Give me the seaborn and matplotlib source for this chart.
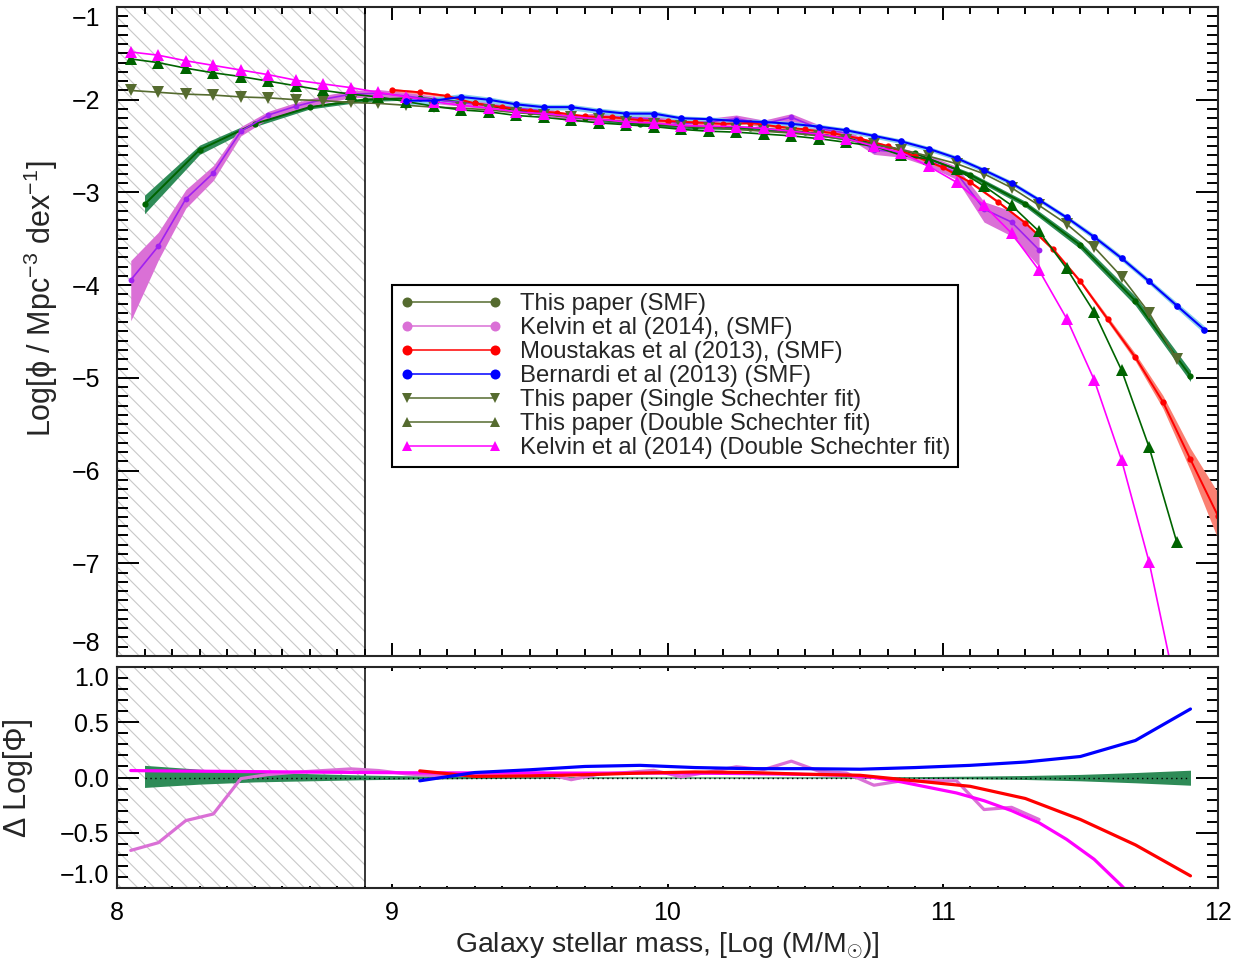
import matplotlib
matplotlib.use("Agg")
import matplotlib.pyplot as plt
import seaborn as sns
from matplotlib.lines import Line2D
from matplotlib.ticker import MultipleLocator, FixedLocator, FuncFormatter

# ---------------- data ----------------
# This paper: SMF (0.2 dex bins)
mass_smf = [8.1, 8.3, 8.5, 8.7, 8.9, 9.1, 9.3, 9.5, 9.7, 9.9,
            10.1, 10.3, 10.5, 10.7, 10.9, 11.1, 11.3, 11.5, 11.7, 11.9]
phi_smf = [-3.13, -2.54, -2.26, -2.08, -2.00, -1.98, -2.04, -2.135, -2.20, -2.26,
           -2.295, -2.305, -2.35, -2.44, -2.58, -2.81, -3.125, -3.57, -4.17, -4.98]
err_smf = [0.10, 0.05, 0.03, 0.02, 0.02, 0.02, 0.02, 0.02, 0.02, 0.02,
           0.02, 0.02, 0.02, 0.02, 0.02, 0.025, 0.03, 0.04, 0.05, 0.06]

# Kelvin et al (2014) SMF
mass_kel = [8.05, 8.15, 8.25, 8.35, 8.45, 8.55, 8.65, 8.75, 8.85, 8.95,
            9.05, 9.15, 9.25, 9.35, 9.45, 9.55, 9.65, 9.75, 9.85, 9.95,
            10.05, 10.15, 10.25, 10.35, 10.45, 10.55, 10.65, 10.75, 10.85, 10.95,
            11.05, 11.15, 11.25, 11.35]
phi_kel = [-3.945, -3.58, -3.07, -2.79, -2.34, -2.165, -2.07, -1.995, -1.94, -1.93,
           -1.96, -2.00, -2.03, -2.06, -2.09, -2.12, -2.20, -2.185, -2.19, -2.21,
           -2.26, -2.24, -2.205, -2.26, -2.19, -2.31, -2.36, -2.54, -2.57, -2.66,
           -2.79, -3.18, -3.32, -3.62]
err_kel_lo = [0.44, 0.15, 0.10, 0.08, 0.05, 0.04, 0.04, 0.04, 0.04, 0.04,
              0.04, 0.04, 0.04, 0.04, 0.04, 0.04, 0.04, 0.04, 0.04, 0.04,
              0.04, 0.04, 0.04, 0.04, 0.04, 0.04, 0.04, 0.05, 0.05, 0.06,
              0.07, 0.14, 0.15, 0.18]
err_kel_hi = [0.21, 0.15, 0.10, 0.08, 0.05, 0.04, 0.04, 0.04, 0.04, 0.04,
              0.04, 0.04, 0.04, 0.04, 0.04, 0.04, 0.04, 0.04, 0.04, 0.04,
              0.04, 0.04, 0.04, 0.04, 0.04, 0.04, 0.04, 0.05, 0.05, 0.06,
              0.07, 0.08, 0.12, 0.14]

# Moustakas et al (2013) SMF
mass_mou = [9.0, 9.1, 9.2, 9.3, 9.4, 9.5, 9.6, 9.7, 9.8, 9.9,
            10.0, 10.1, 10.2, 10.3, 10.4, 10.5, 10.6, 10.7, 10.8, 10.9,
            11.0, 11.1, 11.2, 11.3, 11.4, 11.5, 11.6, 11.7, 11.8, 11.9, 12.0]
phi_mou = [-1.895, -1.92, -1.96, -2.04, -2.08, -2.12, -2.14, -2.18, -2.19, -2.22,
           -2.23, -2.245, -2.26, -2.25, -2.29, -2.32, -2.36, -2.42, -2.50, -2.61,
           -2.73, -2.89, -3.10, -3.33, -3.61, -3.96, -4.37, -4.78, -5.26, -5.88, -6.49]
err_mou = [0.015, 0.015, 0.015, 0.015, 0.015, 0.015, 0.015, 0.015, 0.015, 0.015,
           0.015, 0.015, 0.015, 0.015, 0.015, 0.015, 0.015, 0.015, 0.015, 0.015,
           0.015, 0.015, 0.015, 0.015, 0.02, 0.02, 0.03, 0.04, 0.07, 0.12, 0.25]

# Bernardi et al (2013) SMF
mass_ber = [9.05, 9.15, 9.25, 9.35, 9.45, 9.55, 9.65, 9.75, 9.85, 9.95,
            10.05, 10.15, 10.25, 10.35, 10.45, 10.55, 10.65, 10.75, 10.85, 10.95,
            11.05, 11.15, 11.25, 11.35, 11.45, 11.55, 11.65, 11.75, 11.85, 11.95]
phi_ber = [-2.01, -2.01, -1.97, -2.00, -2.05, -2.08, -2.08, -2.12, -2.15, -2.15,
           -2.20, -2.21, -2.23, -2.24, -2.26, -2.29, -2.33, -2.39, -2.45, -2.53,
           -2.63, -2.76, -2.90, -3.08, -3.27, -3.48, -3.71, -3.96, -4.22, -4.48]
err_ber = [0.04, 0.04, 0.035, 0.03, 0.03, 0.03, 0.03, 0.03, 0.03, 0.03,
           0.025, 0.025, 0.025, 0.025, 0.025, 0.025, 0.025, 0.025, 0.025, 0.025,
           0.025, 0.025, 0.025, 0.025, 0.025, 0.03, 0.03, 0.03, 0.035, 0.04]

# Schechter fits (0.1 dex grid)
mass_fit = [8.05, 8.15, 8.25, 8.35, 8.45, 8.55, 8.65, 8.75, 8.85, 8.95,
            9.05, 9.15, 9.25, 9.35, 9.45, 9.55, 9.65, 9.75, 9.85, 9.95,
            10.05, 10.15, 10.25, 10.35, 10.45, 10.55, 10.65, 10.75, 10.85, 10.95,
            11.05, 11.15, 11.25, 11.35, 11.45, 11.55, 11.65, 11.75, 11.85]
phi_single = [-1.90, -1.92, -1.94, -1.95, -1.97, -1.98, -2.00, -2.01, -2.03, -2.04,
              -2.06, -2.08, -2.09, -2.11, -2.14, -2.16, -2.19, -2.21, -2.24, -2.26,
              -2.28, -2.30, -2.32, -2.34, -2.36, -2.39, -2.43, -2.48, -2.54, -2.61,
              -2.69, -2.80, -2.95, -3.14, -3.34, -3.59, -3.91, -4.30, -4.80]
phi_double = [-1.56, -1.60, -1.66, -1.71, -1.75, -1.80, -1.85, -1.90, -1.94, -1.97,
              -2.02, -2.07, -2.11, -2.13, -2.17, -2.19, -2.22, -2.25, -2.27, -2.29,
              -2.32, -2.34, -2.35, -2.37, -2.39, -2.42, -2.46, -2.50, -2.60, -2.64,
              -2.75, -2.93, -3.14, -3.42, -3.82, -4.29, -4.92, -5.75, -6.77]
phi_kel_double = [-1.485, -1.52, -1.58, -1.63, -1.68, -1.73, -1.79, -1.83, -1.87, -1.92,
                  -1.97, -2.02, -2.06, -2.09, -2.13, -2.15, -2.18, -2.21, -2.24, -2.25,
                  -2.28, -2.285, -2.29, -2.31, -2.34, -2.37, -2.42, -2.50, -2.57, -2.72,
                  -2.89, -3.14, -3.44, -3.84, -4.36, -5.02, -5.89, -6.99, -8.40]

# Lower panel: Delta Log[Phi]
mass_res = [9.1, 9.3, 9.5, 9.7, 9.9, 10.1, 10.3, 10.5, 10.7, 10.9,
            11.1, 11.3, 11.5, 11.7, 11.9]
dres_mou = [0.06, 0.01, 0.015, 0.025, 0.04, 0.05, 0.045, 0.03, 0.02, -0.03,
            -0.08, -0.19, -0.38, -0.61, -0.89]
dres_ber = [-0.03, 0.045, 0.07, 0.10, 0.11, 0.09, 0.08, 0.08, 0.075, 0.09,
            0.11, 0.14, 0.19, 0.335, 0.62]
dres_kel = [-0.66, -0.59, -0.39, -0.33, -0.01, 0.027, 0.048, 0.063, 0.078, 0.063,
            0.033, 0.018, 0.02, 0.04, 0.04, 0.04, -0.02, 0.03, 0.045, 0.065,
            0.006, 0.05, 0.097, 0.072, 0.148, 0.057, 0.04, -0.07, -0.03, -0.03,
            -0.03, -0.29, -0.27, -0.38]
dres_kel_double = [0.063, 0.06, 0.058, 0.056, 0.054, 0.052, 0.05, 0.048, 0.046, 0.044,
                   0.043, 0.042, 0.042, 0.042, 0.042, 0.041, 0.04, 0.04, 0.04, 0.04,
                   0.039, 0.038, 0.036, 0.033, 0.03, 0.026, 0.02, 0.0, -0.04, -0.09,
                   -0.14, -0.21, -0.30, -0.41, -0.56, -0.74, -0.98, -1.24, -1.60]
dres_band_hi = [0.11, 0.075, 0.05, 0.035, 0.022, 0.014, 0.010, 0.008, 0.007, 0.006,
                0.006, 0.006, 0.006, 0.007, 0.008, 0.012, 0.018, 0.028, 0.045, 0.066]
dres_band_lo = [-0.09, -0.06, -0.04, -0.03, -0.02, -0.014, -0.010, -0.008, -0.007, -0.006,
                -0.006, -0.006, -0.006, -0.007, -0.008, -0.012, -0.018, -0.03, -0.048, -0.07]
dres_zero = [0.0] * len(mass_smf)

legend_labels = ["This paper (SMF)", "Kelvin et al (2014), (SMF)",
                 "Moustakas et al (2013), (SMF)", "Bernardi et al (2013) (SMF)",
                 "This paper (Single Schechter fit)", "This paper (Double Schechter fit)",
                 "Kelvin et al (2014) (Double Schechter fit)"]

x_ticks = [8, 9, 10, 11, 12]
top_y_ticks = [-8, -7, -6, -5, -4, -3, -2, -1]
bot_y_ticks = [-1.0, -0.5, 0.0, 0.5, 1.0]
mass_limit = 8.9

# ---------------- style ----------------
sns.set_style("ticks")
plt.rcParams["font.family"] = ["Liberation Sans", "DejaVu Sans"]
plt.rcParams["mathtext.fontset"] = "custom"
plt.rcParams["mathtext.rm"] = "Liberation Sans"
plt.rcParams["mathtext.it"] = "Liberation Sans:italic"
plt.rcParams["mathtext.sf"] = "Liberation Sans"
plt.rcParams["hatch.linewidth"] = 0.8
plt.rcParams["axes.unicode_minus"] = True

C_DKGREEN = "#006400"
C_SEAGREEN = "#2E8B57"
C_OLIVE = "#556B2F"
C_ORCHID = "#DA70D6"
C_PURPLE = "#A020F0"
C_MAGENTA = "#FF00FF"
C_SALMON = "#FA8072"
C_SKY = "#87CEEB"

W, H = 1246, 965
fig = plt.figure(figsize=(W / 100, H / 100), dpi=100)
ax1 = fig.add_axes([117 / W, 1 - 656 / H, 1101 / W, 649 / H])
ax2 = fig.add_axes([117 / W, 1 - 888 / H, 1101 / W, 221 / H])

for ax in (ax1, ax2):
    ax.set_facecolor("white")
    ax.axvspan(8.0, mass_limit, facecolor="none", edgecolor="#c8c8c8",
               hatch="\\\\", linewidth=0, zorder=0)
    ax.axvline(mass_limit, color="black", lw=1.1, zorder=1)

# ---------------- top panel ----------------
ax1.fill_between(mass_smf, [p - e for p, e in zip(phi_smf, err_smf)],
                 [p + e for p, e in zip(phi_smf, err_smf)],
                 color=C_SEAGREEN, lw=0, zorder=2)
ax1.fill_between(mass_kel, [p - e for p, e in zip(phi_kel, err_kel_lo)],
                 [p + e for p, e in zip(phi_kel, err_kel_hi)],
                 color=C_ORCHID, lw=0, zorder=2)
ax1.fill_between(mass_mou, [p - e for p, e in zip(phi_mou, err_mou)],
                 [p + e for p, e in zip(phi_mou, err_mou)],
                 color=C_SALMON, lw=0, zorder=2)
ax1.fill_between(mass_ber, [p - e for p, e in zip(phi_ber, err_ber)],
                 [p + e for p, e in zip(phi_ber, err_ber)],
                 color=C_SKY, lw=0, zorder=2)

line_kw = dict(markeredgewidth=0, sort=False)
sns.lineplot(x=mass_smf, y=phi_smf, ax=ax1, color=C_DKGREEN, marker="o",
             markersize=4.5, linewidth=1.4, zorder=3, **line_kw)
sns.lineplot(x=mass_kel, y=phi_kel, ax=ax1, color=C_PURPLE, marker="o",
             markersize=4.2, linewidth=1.2, zorder=3, **line_kw)
sns.lineplot(x=mass_mou, y=phi_mou, ax=ax1, color="red", marker="o",
             markersize=4.5, linewidth=1.4, zorder=3, **line_kw)
sns.lineplot(x=mass_fit, y=phi_single, ax=ax1, color=C_OLIVE, marker="v",
             markersize=9, linewidth=1.2, zorder=4, **line_kw)
sns.lineplot(x=mass_fit, y=phi_double, ax=ax1, color=C_DKGREEN, marker="^",
             markersize=9, linewidth=1.2, zorder=4, **line_kw)
sns.lineplot(x=mass_fit, y=phi_kel_double, ax=ax1, color=C_MAGENTA, marker="^",
             markersize=9, linewidth=1.2, zorder=4, **line_kw)
sns.lineplot(x=mass_ber, y=phi_ber, ax=ax1, color="blue", marker="o",
             markersize=4.8, linewidth=1.5, zorder=5, **line_kw)

ax1.set_xlim(8, 12)
ax1.set_ylim(-8, -1)

handles = [
    Line2D([], [], color=C_OLIVE, marker="o", ms=7.2, mew=0, lw=1.1),
    Line2D([], [], color=C_ORCHID, marker="o", ms=7.2, mew=0, lw=1.1),
    Line2D([], [], color="red", marker="o", ms=7.2, mew=0, lw=1.1),
    Line2D([], [], color="blue", marker="o", ms=7.2, mew=0, lw=1.1),
    Line2D([], [], color=C_OLIVE, marker="v", ms=7.5, mew=0, lw=1.1),
    Line2D([], [], color=C_OLIVE, marker="^", ms=7.5, mew=0, lw=1.1),
    Line2D([], [], color=C_MAGENTA, marker="^", ms=7.5, mew=0, lw=1.1),
]
leg = ax1.legend(handles, legend_labels, loc="upper left",
                 bbox_to_anchor=((392 - 117) / 1101, (656 - 285) / 649),
                 borderaxespad=0, numpoints=2, handlelength=4.27,
                 handletextpad=0.75, labelspacing=0.085, borderpad=0.33,
                 fontsize=17.2, frameon=True, fancybox=False,
                 edgecolor="black", framealpha=1, shadow=False)
leg.get_frame().set_linewidth(1.5)
leg.set_zorder(10)

# ---------------- bottom panel ----------------
ax2.fill_between(mass_smf, dres_band_lo, dres_band_hi, color=C_SEAGREEN, lw=0, zorder=2)
sns.lineplot(x=mass_smf, y=dres_zero, ax=ax2, color="black", linewidth=1.0,
             linestyle=(0, (1, 2.5)), zorder=3, sort=False)
sns.lineplot(x=mass_kel, y=dres_kel, ax=ax2, color=C_ORCHID, linewidth=2.3,
             zorder=4, sort=False)
sns.lineplot(x=mass_fit, y=dres_kel_double, ax=ax2, color=C_MAGENTA, linewidth=2.3,
             zorder=4, sort=False)
sns.lineplot(x=mass_res, y=dres_mou, ax=ax2, color="red", linewidth=2.3,
             zorder=5, sort=False)
sns.lineplot(x=mass_res, y=dres_ber, ax=ax2, color="blue", linewidth=2.3,
             zorder=5, sort=False)
ax2.set_xlim(8, 12)
ax2.set_ylim(-1, 1)

# ---------------- axes / ticks ----------------
for ax in (ax1, ax2):
    for sp in ax.spines.values():
        sp.set_linewidth(1.5)
        sp.set_visible(True)
        sp.set_zorder(20)
    ax.xaxis.set_major_locator(FixedLocator(x_ticks))
    ax.xaxis.set_minor_locator(MultipleLocator(0.1))
    ax.tick_params(which="both", direction="in", top=True, right=True,
                   bottom=True, left=True, width=1.4, colors="black",
                   labelsize=18, zorder=20)

ax1.yaxis.set_major_locator(FixedLocator(top_y_ticks))
ax1.yaxis.set_minor_locator(MultipleLocator(0.1))
ax1.tick_params(axis="y", which="major", length=15.8, pad=12)
ax1.tick_params(axis="y", which="minor", length=7.9)
ax1.tick_params(axis="x", which="major", length=9.4)
ax1.tick_params(axis="x", which="minor", length=4.7)
ax1.tick_params(axis="x", labelbottom=False)

ax2.yaxis.set_major_locator(FixedLocator(bot_y_ticks))
ax2.yaxis.set_minor_locator(MultipleLocator(0.1))
ax2.yaxis.set_major_formatter(FuncFormatter(lambda v, p: ("%.1f" % v).replace("-", "\u2212")))
ax2.tick_params(axis="y", which="major", length=15.8, pad=6)
ax2.tick_params(axis="y", which="minor", length=7.9)
ax2.tick_params(axis="x", which="major", length=3.2, pad=9)
ax2.tick_params(axis="x", which="minor", length=1.6)

# edge labels pushed inside the axis range, as in the reference
fig.canvas.draw()
for ax in (ax1, ax2):
    ticks = ax.yaxis.get_major_ticks()
    ticks[0].label1.set_verticalalignment("bottom")
    ticks[-1].label1.set_verticalalignment("top")

ax1.set_ylabel("Log[ϕ / Mpc$^{-3}$ dex$^{-1}$]", fontsize=22)
ax1.yaxis.set_label_coords((60 - 117) / 1101, (656 - 299) / 649)
ax2.set_ylabel("Δ Log[Φ]", fontsize=22)
ax2.yaxis.set_label_coords((33 - 117) / 1101, 0.5)
ax2.set_xlabel("Galaxy stellar mass, [Log (M/M$_{\\odot}$)]", fontsize=20.4)
ax2.xaxis.set_label_coords(0.5, (888 - 930) / 221)

fig.savefig("out.png", dpi=100, facecolor="white")
